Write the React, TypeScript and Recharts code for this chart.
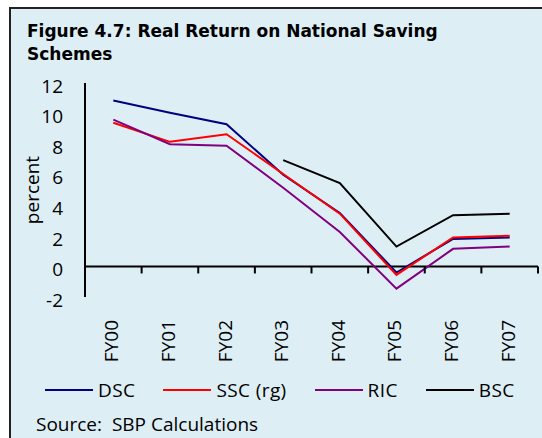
import React from "react";
import { LineChart, Line, XAxis, YAxis, ReferenceLine } from "recharts";

// ── Data ──────────────────────────────────────────────────────────────────────

const YEARS = ["FY00", "FY01", "FY02", "FY03", "FY04", "FY05", "FY06", "FY07"];
const DSC = [10.85, 10.05, 9.3, 6.0, 3.5, -0.4, 1.8, 1.9];
const SSC = [9.4, 8.15, 8.65, 6.05, 3.45, -0.55, 1.9, 2.0];
const RIC = [9.6, 8.0, 7.9, 5.15, 2.25, -1.45, 1.15, 1.3];
const BSC = [null, null, null, 6.95, 5.45, 1.3, 3.35, 3.45];
const Y_TICKS = [-2, 0, 2, 4, 6, 8, 10, 12];

const SERIES = [
  { key: "dsc", name: "DSC", color: "#000080" },
  { key: "ssc", name: "SSC (rg)", color: "#FF0000" },
  { key: "ric", name: "RIC", color: "#800080" },
  { key: "bsc", name: "BSC", color: "#000000" },
];

const data = YEARS.map((y, i) => ({
  year: y,
  dsc: DSC[i],
  ssc: SSC[i],
  ric: RIC[i],
  bsc: BSC[i],
}));

// ── Layout ────────────────────────────────────────────────────────────────────

const W = 542;
const H = 438;
const PLOT_TOP = 83;
const PLOT_BOTTOM = 297;
const PLOT_LEFT = 85;
const PLOT_RIGHT = 538;
const Y_MIN = -2;
const Y_MAX = 12;
const FONT = "'Open Sans', sans-serif";

// zero row and band width, for the category marks hanging off the zero line
const ZERO_Y = PLOT_TOP + ((Y_MAX - 0) / (Y_MAX - Y_MIN)) * (PLOT_BOTTOM - PLOT_TOP);
const BAND = (PLOT_RIGHT - PLOT_LEFT) / YEARS.length;

function YearTick(props: any) {
  const tx = Number(props.x) + 5;
  return (
    <text
      x={tx}
      y={320}
      transform={`rotate(-90, ${tx}, 320)`}
      textAnchor="end"
      fontFamily={FONT}
      fontSize={19}
      fill="#000"
    >
      {props.payload.value}
    </text>
  );
}

function ZeroMarks() {
  return (
    <svg
      width={W}
      height={H}
      style={{ position: "absolute", left: 0, top: 0, pointerEvents: "none" }}
    >
      {YEARS.map((y, i) => {
        const mx = PLOT_LEFT + (i + 1) * BAND;
        return <line key={y} x1={mx} x2={mx} y1={ZERO_Y} y2={ZERO_Y + 7} stroke="#000" strokeWidth={2} />;
      })}
    </svg>
  );
}

function LegendRow() {
  return (
    <div
      style={{
        position: "absolute",
        left: 45,
        top: 377,
        display: "flex",
        alignItems: "center",
        gap: 28,
        fontFamily: FONT,
        fontSize: 19,
        letterSpacing: 0.4,
        color: "#000",
      }}
    >
      {SERIES.map((s) => (
        <div key={s.key} style={{ display: "flex", alignItems: "center", gap: 5 }}>
          <span style={{ display: "inline-block", width: 48, height: 2, background: s.color }} />
          <span>{s.name}</span>
        </div>
      ))}
    </div>
  );
}

export default function App() {
  return (
    <div style={{ position: "absolute", left: 0, top: 0, width: W, height: H, overflow: "hidden" }}>
      <div
        style={{
          position: "absolute",
          left: 9,
          top: 7,
          right: 0,
          bottom: 0,
          background: "#DDEEF5",
          borderLeft: "2px solid #222",
          borderTop: "2px solid #222",
        }}
      />
      <div
        style={{
          position: "absolute",
          left: 27,
          top: 20,
          width: 510,
          fontFamily: "'DejaVu Sans', sans-serif",
          fontWeight: 700,
          fontSize: 17,
          lineHeight: "23px",
          color: "#000",
        }}
      >
        Figure 4.7: Real Return on National Saving
        <br />
        Schemes
      </div>
      <div style={{ position: "absolute", left: 0, top: 0 }}>
        <LineChart
          width={W}
          height={H}
          data={data}
          margin={{ top: PLOT_TOP, right: W - PLOT_RIGHT, bottom: H - PLOT_BOTTOM - 60, left: 0 }}
        >
          <XAxis
            dataKey="year"
            scale="band"
            height={60}
            axisLine={false}
            tickLine={false}
            tick={<YearTick />}
            interval={0}
          />
          <YAxis
            width={PLOT_LEFT}
            domain={[Y_MIN, Y_MAX]}
            ticks={Y_TICKS}
            allowDataOverflow
            axisLine={{ stroke: "#000", strokeWidth: 2 }}
            tickLine={false}
            tickSize={0}
            tickMargin={22}
            tick={{ fill: "#000", fontSize: 19, fontFamily: FONT, dy: 3 }}
            label={{
              value: "percent",
              angle: -90,
              position: "center",
              dx: -10,
              style: { fill: "#000", fontSize: 19, fontFamily: FONT },
            }}
          />
          <ReferenceLine y={0} stroke="#000" strokeWidth={2} />
          {SERIES.map((s) => (
            <Line
              key={s.key}
              dataKey={s.key}
              name={s.name}
              stroke={s.color}
              strokeWidth={2}
              dot={false}
              activeDot={false}
              isAnimationActive={false}
            />
          ))}
        </LineChart>
      </div>
      <ZeroMarks />
      <LegendRow />
      <div
        style={{
          position: "absolute",
          left: 36,
          top: 411,
          fontFamily: FONT,
          fontSize: 19,
          color: "#000",
          whiteSpace: "pre",
        }}
      >
        {"Source:  SBP Calculations"}
      </div>
    </div>
  );
}
